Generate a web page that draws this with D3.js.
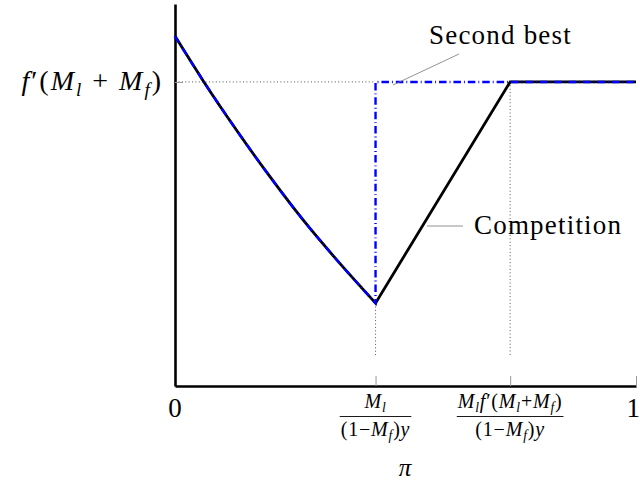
<!DOCTYPE html>
<html>
<head>
<meta charset="utf-8">
<script src="https://d3js.org/d3.v7.min.js"></script>
<style>
  body { margin: 0; background: #fff; }
  svg { display: block; font-family: "Liberation Serif", serif; }
</style>
</head>
<body>
<svg id="chart" width="640" height="483"></svg>
<script>
// values (x = pi in [0,1], y in arbitrary units)
const curveX = [0, 0.0606, 0.134, 0.206, 0.277, 0.351, 0.435];
const curveY = [0.916, 0.800, 0.669, 0.548, 0.436, 0.330, 0.217];
const fLevel = 0.796;      // f'(Ml+Mf)
const kink1 = 0.435;       // Ml/((1-Mf)y)
const kink2 = 0.727;       // Ml f'(Ml+Mf)/((1-Mf)y)
const xEnd = 1;

const svg = d3.select("#chart");
const x = d3.scaleLinear().domain([0, 1]).range([175, 636]);
const y = d3.scaleLinear().domain([0, 1]).range([386, 4]);

// curve part shared by both series, then the straight pieces
const base = curveX.map((d, i) => [d, curveY[i]]);
const competitionTail = [[kink1, curveY[curveY.length - 1]], [kink2, fLevel], [xEnd, fLevel]];
const secondBestTail = [[kink1, curveY[curveY.length - 1]], [kink1, fLevel], [xEnd, fLevel]];

const smooth = d3.line().x(d => x(d[0])).y(d => y(d[1])).curve(d3.curveMonotoneX);
const straight = d3.line().x(d => x(d[0])).y(d => y(d[1]));
const pathOf = tail => smooth(base) + straight(tail).replace(/^M/, "L");

// dotted guide lines
const guide = svg.append("g")
    .attr("stroke", "#555").attr("stroke-width", 1)
    .attr("stroke-dasharray", "1,2.4").attr("fill", "none");
guide.append("line")
    .attr("x1", x(0)).attr("x2", x(kink1))
    .attr("y1", y(fLevel)).attr("y2", y(fLevel));
guide.append("line")
    .attr("x1", x(kink1)).attr("x2", x(kink1))
    .attr("y1", y(curveY[curveY.length - 1])).attr("y2", 356);
guide.append("line")
    .attr("x1", x(kink2)).attr("x2", x(kink2))
    .attr("y1", y(fLevel)).attr("y2", 356);

// axes
const xAxis = svg.append("g")
    .attr("transform", "translate(0," + y(0) + ")")
    .call(d3.axisBottom(x).tickValues([0, kink1, kink2, 1])
        .tickSizeInner(-10).tickSizeOuter(0).tickFormat(""));
xAxis.selectAll(".tick line").attr("stroke", "#999").attr("stroke-width", 1);
xAxis.select(".domain").attr("stroke", "#000").attr("stroke-width", 2.6);

const yAxis = svg.append("g")
    .attr("transform", "translate(" + x(0) + ",0)")
    .call(d3.axisLeft(y).tickValues([fLevel])
        .tickSizeInner(-8).tickSizeOuter(0).tickFormat(""));
yAxis.selectAll(".tick line").attr("stroke", "#999").attr("stroke-width", 1);
yAxis.select(".domain").attr("stroke", "#000").attr("stroke-width", 2.6);

// series
svg.append("path").attr("d", pathOf(competitionTail))
    .attr("fill", "none").attr("stroke", "#000").attr("stroke-width", 2.8)
    .attr("stroke-linejoin", "miter");
svg.append("path").attr("d", pathOf(secondBestTail))
    .attr("fill", "none").attr("stroke", "#0000ff").attr("stroke-width", 2.4)
    .attr("stroke-dasharray", "7.5,3,0.9,3");

// annotations
const pin = svg.append("g").attr("stroke", "#777").attr("stroke-width", 0.8);
pin.append("line").attr("x1", 393).attr("y1", 85).attr("x2", 459).attr("y2", 54);
pin.append("line").attr("x1", 427).attr("y1", 226).attr("x2", 463).attr("y2", 226);

svg.append("text").attr("x", 429).attr("y", 44)
    .attr("font-size", 27).attr("letter-spacing", 1.2).text("Second best");
svg.append("text").attr("x", 474).attr("y", 234)
    .attr("font-size", 27).attr("letter-spacing", 1.2).text("Competition");

// math text: [text, style] with style "" | "i" | "sub"
function addMath(t, parts, size) {
  const shift = size * 0.2;
  let low = false;
  parts.forEach(p => {
    const s = t.append("tspan").text(p[0]);
    if (p[1] === "i" || p[1] === "sub") s.attr("font-style", "italic");
    if (p[1] === "sub") {
      s.attr("font-size", size * 0.68);
      if (!low) { s.attr("dy", shift); low = true; }
    } else if (low) {
      s.attr("dy", -shift); low = false;
    }
  });
}

// y tick label
const yl = svg.append("text").attr("x", 163).attr("y", y(fLevel) + 8)
    .attr("text-anchor", "end").attr("font-size", 28).attr("letter-spacing", 2);
addMath(yl, [["f", "i"], ["′(", ""], ["M", "i"], ["l", "sub"], [" + ", ""],
             ["M", "i"], ["f", "sub"], [")", ""]], 28);

// x tick labels
const tickFont = 27;
svg.append("text").attr("x", x(0)).attr("y", 417)
    .attr("text-anchor", "middle").attr("font-size", tickFont).text("0");
svg.append("text").attr("x", 640).attr("y", 417)
    .attr("text-anchor", "end").attr("font-size", tickFont).text("1");

function fraction(cx, num, den) {
  const fs = 20;
  const g = svg.append("g");
  const n = g.append("text").attr("x", cx).attr("y", 408)
      .attr("text-anchor", "middle").attr("font-size", fs).attr("letter-spacing", 0.8);
  addMath(n, num, fs);
  const d = g.append("text").attr("x", cx).attr("y", 436)
      .attr("text-anchor", "middle").attr("font-size", fs).attr("letter-spacing", 0.8);
  addMath(d, den, fs);
  const w = Math.max(n.node().getComputedTextLength(), d.node().getComputedTextLength()) + 2;
  g.append("line").attr("x1", cx - w / 2).attr("x2", cx + w / 2)
      .attr("y1", 416.5).attr("y2", 416.5).attr("stroke", "#000").attr("stroke-width", 0.9);
}
const denParts = [["(1−", ""], ["M", "i"], ["f", "sub"], [")", ""], ["y", "i"]];
fraction(x(kink1), [["M", "i"], ["l", "sub"]], denParts);
fraction(x(kink2), [["M", "i"], ["l", "sub"], ["f", "i"], ["′(", ""], ["M", "i"], ["l", "sub"],
                    ["+", ""], ["M", "i"], ["f", "sub"], [")", ""]], denParts);

// axis title
svg.append("text").attr("x", 405).attr("y", 476)
    .attr("text-anchor", "middle").attr("font-size", 25)
    .attr("font-style", "italic").text("π");
</script>
</body>
</html>
